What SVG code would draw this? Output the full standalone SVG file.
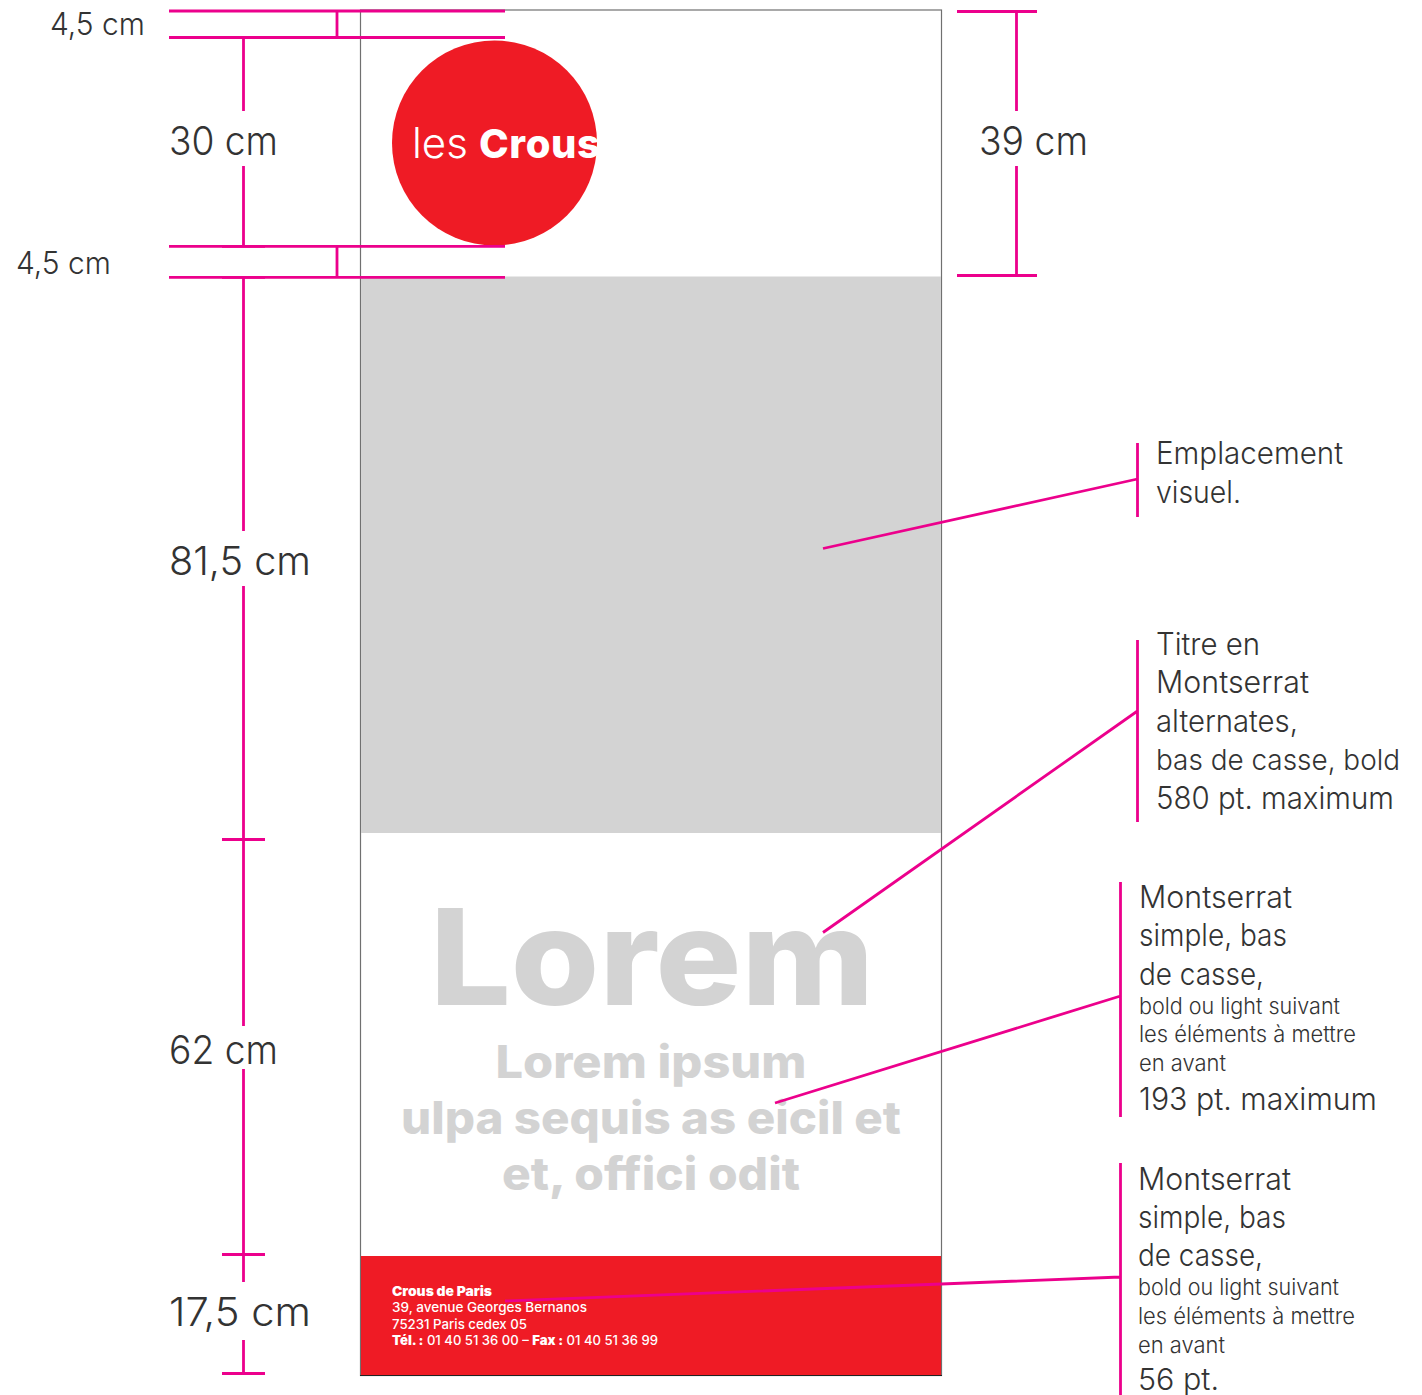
<svg xmlns="http://www.w3.org/2000/svg" width="1422" height="1395" viewBox="0 0 1422 1395">
<style>
.m{stroke:#ec008c;stroke-width:2.8;fill:none}
.t{font-family:"Inter","Liberation Sans",sans-serif;font-weight:300;fill:#333}
.d{font-size:39px}
.l{font-size:31px}
.s{font-size:22.5px}
.g{font-family:"Inter","Liberation Sans",sans-serif;font-weight:800;fill:#d3d3d3;text-anchor:middle}
.f{font-family:"Inter","Liberation Sans",sans-serif;font-size:13.2px;fill:#fff;font-weight:500}
.b{font-weight:900}
</style>
<rect width="1422" height="1395" fill="#fff"/>
<g id="poster">
<rect x="360.500" y="10" width="581" height="1365.500" fill="#fff" stroke="#707070" stroke-width="1.200"/>
<rect id="visuel" x="361" y="276.500" width="580" height="556.500" fill="#d3d3d3"/>
<rect id="footer" x="361" y="1256" width="580" height="119" fill="#ef1b25"/>
<path d="M360 1375.500H942" stroke="#222" stroke-width="1.200"/>
</g>
<g id="logo">
<ellipse cx="494.500" cy="143" rx="102.500" ry="102.500" fill="#ef1b25"/>
<text x="412" y="158" font-family="Inter,'Liberation Sans',sans-serif" font-size="42" font-weight="300" fill="#fff">les</text>
<text x="479" y="158" font-family="Inter,'Liberation Sans',sans-serif" font-size="40" font-weight="800" fill="#fff" textLength="121" lengthAdjust="spacing">Crous</text>
</g>
<g id="title">
<text class="g" x="652" y="1005" font-size="134" textLength="444" lengthAdjust="spacingAndGlyphs">Lorem</text>
<text class="g" x="651" y="1078" font-size="45" textLength="311" lengthAdjust="spacingAndGlyphs">Lorem ipsum</text>
<text class="g" x="651" y="1134" font-size="45" textLength="500" lengthAdjust="spacingAndGlyphs">ulpa sequis as eicil et</text>
<text class="g" x="651" y="1190" font-size="45" textLength="298" lengthAdjust="spacingAndGlyphs">et, offici odit</text>
</g>
<g id="address">
<text class="f" x="392" y="1296" textLength="100" lengthAdjust="spacingAndGlyphs"><tspan class="b">Crous de Paris</tspan></text>
<text class="f" x="392" y="1312" textLength="195" lengthAdjust="spacingAndGlyphs">39, avenue Georges Bernanos</text>
<text class="f" x="392" y="1329" textLength="135" lengthAdjust="spacingAndGlyphs">75231 Paris cedex 05</text>
<text class="f" x="392" y="1345" textLength="266" lengthAdjust="spacingAndGlyphs"><tspan class="b">Tél. :</tspan> 01 40 51 36 00 – <tspan class="b">Fax :</tspan> 01 40 51 36 99</text>
</g>
<g id="connectors">
<path class="m" d="M169 11H505M169 37.500H505M169 246.300H505M169 277.300H505"/>
<path class="m" d="M337 11V37.500M337 246V277"/>
<path class="m" d="M243.500 38V111M243.500 166V246M243.500 277V531M243.500 586V1026M243.500 1069V1282M243.500 1340V1374"/>
<path class="m" d="M222 246.300H265M222 277.300H265M222 839.500H265M222 1254.500H265M222 1373.500H265"/>
<path class="m" d="M957 11.500H1037M957 275.500H1037M1016.500 12V111M1016.500 166V275"/>
<path class="m" d="M1137.500 443V517M823 548.500L1137.500 479"/>
<path class="m" d="M1137.500 640V822M823 932.500L1137.500 711"/>
<path class="m" d="M1120.500 882V1117M775 1103L1120.500 996"/>
<path class="m" d="M1120.500 1163V1395M505 1301L1120.500 1277"/>
</g>
<g id="dimensions">
<text class="t" x="50" y="35" font-size="31" textLength="95" lengthAdjust="spacingAndGlyphs">4,5 cm</text>
<text class="t" x="16" y="274" font-size="31" textLength="95" lengthAdjust="spacingAndGlyphs">4,5 cm</text>
<text class="t d" x="169" y="155" textLength="109" lengthAdjust="spacingAndGlyphs">30 cm</text>
<text class="t d" x="979" y="155" textLength="109" lengthAdjust="spacingAndGlyphs">39 cm</text>
<text class="t d" x="169" y="575" textLength="142" lengthAdjust="spacingAndGlyphs">81,5 cm</text>
<text class="t d" x="169" y="1064" textLength="109" lengthAdjust="spacingAndGlyphs">62 cm</text>
<text class="t d" x="169" y="1326" textLength="142" lengthAdjust="spacingAndGlyphs">17,5 cm</text>
</g>
<g id="note-visuel">
<text class="t l" x="1156" y="464" textLength="187" lengthAdjust="spacingAndGlyphs">Emplacement</text>
<text class="t l" x="1156" y="503" textLength="85" lengthAdjust="spacingAndGlyphs">visuel.</text>
</g>
<g id="note-titre">
<text class="t l" x="1156" y="655" textLength="104" lengthAdjust="spacingAndGlyphs">Titre en</text>
<text class="t l" x="1156" y="693" textLength="153" lengthAdjust="spacingAndGlyphs">Montserrat</text>
<text class="t l" x="1156" y="732" textLength="142" lengthAdjust="spacingAndGlyphs">alternates,</text>
<text class="t" x="1156" y="770" font-size="29" textLength="244" lengthAdjust="spacingAndGlyphs">bas de casse, bold</text>
<text class="t l" x="1156" y="809" textLength="238" lengthAdjust="spacingAndGlyphs">580 pt. maximum</text>
</g>
<g id="note-sous-titre">
<text class="t l" x="1139" y="908" textLength="153" lengthAdjust="spacingAndGlyphs">Montserrat</text>
<text class="t l" x="1139" y="946" textLength="148" lengthAdjust="spacingAndGlyphs">simple, bas</text>
<text class="t l" x="1139" y="985" textLength="125" lengthAdjust="spacingAndGlyphs">de casse,</text>
<text class="t s" x="1139" y="1014" textLength="201" lengthAdjust="spacingAndGlyphs">bold ou light suivant</text>
<text class="t s" x="1139" y="1042" textLength="217" lengthAdjust="spacingAndGlyphs">les éléments à mettre</text>
<text class="t s" x="1139" y="1071" textLength="87" lengthAdjust="spacingAndGlyphs">en avant</text>
<text class="t l" x="1139" y="1110" textLength="238" lengthAdjust="spacingAndGlyphs">193 pt. maximum</text>
</g>
<g id="note-adresse">
<text class="t l" x="1138" y="1190" textLength="153" lengthAdjust="spacingAndGlyphs">Montserrat</text>
<text class="t l" x="1138" y="1228" textLength="148" lengthAdjust="spacingAndGlyphs">simple, bas</text>
<text class="t l" x="1138" y="1266" textLength="125" lengthAdjust="spacingAndGlyphs">de casse,</text>
<text class="t s" x="1138" y="1295" textLength="201" lengthAdjust="spacingAndGlyphs">bold ou light suivant</text>
<text class="t s" x="1138" y="1324" textLength="217" lengthAdjust="spacingAndGlyphs">les éléments à mettre</text>
<text class="t s" x="1138" y="1353" textLength="87" lengthAdjust="spacingAndGlyphs">en avant</text>
<text class="t" x="1138" y="1390" font-size="30" textLength="81" lengthAdjust="spacingAndGlyphs">56 pt.</text>
</g>
</svg>
